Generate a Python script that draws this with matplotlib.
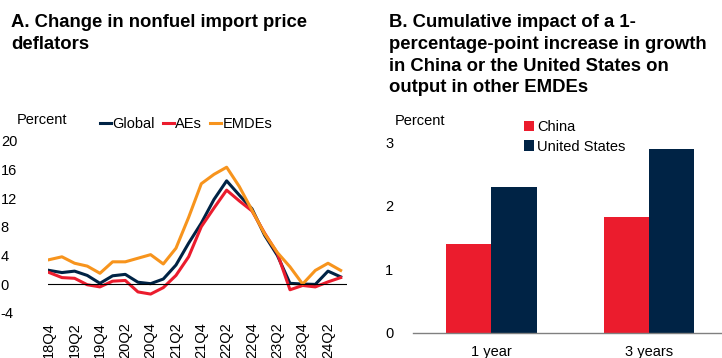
import matplotlib
import matplotlib.pyplot as plt
plt.switch_backend('agg')
import numpy as np

plt.rcParams['font.family'] = ['Liberation Sans', 'DejaVu Sans']
plt.rcParams['axes.unicode_minus'] = False

# panel A: nonfuel import price deflators, percent
quarters = ['18Q4', '19Q1', '19Q2', '19Q3', '19Q4', '20Q1', '20Q2', '20Q3', '20Q4',
            '21Q1', '21Q2', '21Q3', '21Q4', '22Q1', '22Q2', '22Q3', '22Q4',
            '23Q1', '23Q2', '23Q3', '23Q4', '24Q1', '24Q2', '24Q3']
glob = [1.9, 1.6, 1.8, 1.2, 0.1, 1.15, 1.35, 0.25, 0.05, 0.7, 2.65, 5.7, 8.5, 11.8,
        14.4, 12.4, 10.5, 6.8, 4.0, 0.1, 0.0, -0.05, 1.8, 1.0]
aes = [1.6, 0.9, 0.8, -0.1, -0.4, 0.4, 0.5, -1.1, -1.4, -0.5, 1.2, 3.8, 8.0, 10.6,
       13.1, 11.6, 10.2, 7.1, 4.3, -0.8, -0.2, -0.4, 0.3, 0.9]
emdes = [3.4, 3.8, 2.9, 2.5, 1.5, 3.1, 3.1, 3.6, 4.1, 2.8, 5.0, 9.3, 14.0, 15.3,
         16.3, 13.6, 10.3, 7.0, 4.4, 2.4, 0.0, 1.9, 2.9, 1.9]

# panel B: cumulative impact, percent
horizons = ['1 year', '3 years']
china = [1.39, 1.83]
us = [2.29, 2.90]

title_a = ['A. Change in nonfuel import price', 'deflators']
title_b = ['B. Cumulative impact of a 1-', 'percentage-point increase in growth',
           'in China or the United States on', 'output in other EMDEs']

navy = '#002345'
red = '#EB1C2D'
orange = '#F7941D'

W, H = 722, 358
fig = plt.figure(figsize=(W/100, H/100), dpi=100)

def px_axes(x0, y0, x1, y1):
    # pixel box (top-left origin) -> figure axes
    return fig.add_axes([x0/W, 1-y1/H, (x1-x0)/W, (y1-y0)/H])

def title(lines, x0):
    for i, s in enumerate(lines):
        fig.text(x0/W, 1-(27+21.8*i)/H, s, fontsize=13.3, fontweight='bold',
                 va='baseline', ha='left')

fs = 10.5

# ---- panel A
ax = px_axes(48, 140.7, 347, 312.7)
x = np.arange(len(quarters))
ax.plot(x, glob, color=navy, lw=2.2, label='Global')
ax.plot(x, aes, color=red, lw=2.2, label='AEs')
ax.plot(x, emdes, color=orange, lw=2.2, label='EMDEs')
ax.axhline(0, color='black', lw=0.8)
ax.set_xlim(-0.1, 23.5)
ax.set_ylim(-4, 20)
ax.set_yticks(np.arange(-4, 21, 4))
ax.set_xticks(x[::2])
ax.set_xticklabels(quarters[::2], rotation=90, fontsize=fs)
for s in ax.spines.values():
    s.set_visible(False)
ax.tick_params(axis='both', length=0, labelsize=fs)
ax.tick_params(axis='x', pad=7)
ax.tick_params(axis='y', pad=34)
for t in ax.get_yticklabels():
    t.set_ha('left')
ax.legend(loc='upper left', bbox_to_anchor=(52/299, 1.14), ncol=3, frameon=False,
          fontsize=fs, handlelength=0.75, handletextpad=0.1, columnspacing=0.55,
          borderaxespad=0, borderpad=0)
fig.text(17/W, 1-120/H, 'Percent', fontsize=fs, va='center', ha='left')
title(title_a, 11)

# ---- panel B
bx = px_axes(412.7, 142.3, 722, 332.7)
xb = np.arange(len(horizons))
bw = 0.286
bx.bar(xb - bw/2, china, bw, color=red, label='China')
bx.bar(xb + bw/2, us, bw, color=navy, label='United States')
bx.set_xlim(-0.5, 1.463)
bx.set_ylim(0, 3)
bx.set_yticks([0, 1, 2, 3])
bx.set_xticks(xb)
bx.set_xticklabels(horizons)
for k, s in bx.spines.items():
    s.set_visible(k == 'bottom')
bx.spines['bottom'].set_color('#808080')
bx.spines['bottom'].set_linewidth(1)
bx.tick_params(axis='both', length=0, labelsize=fs)
bx.tick_params(axis='x', pad=9)
bx.tick_params(axis='y', pad=14)
bx.legend(loc='upper left', bbox_to_anchor=((524-412.7)/309.3, 1.115), frameon=False,
          fontsize=fs, handlelength=0.7, handleheight=0.7, handletextpad=0.2,
          labelspacing=0.35, borderaxespad=0, borderpad=0)
fig.text(395/W, 1-121/H, 'Percent', fontsize=fs, va='center', ha='left')
title(title_b, 389)

fig.savefig('out.png', dpi=100)
